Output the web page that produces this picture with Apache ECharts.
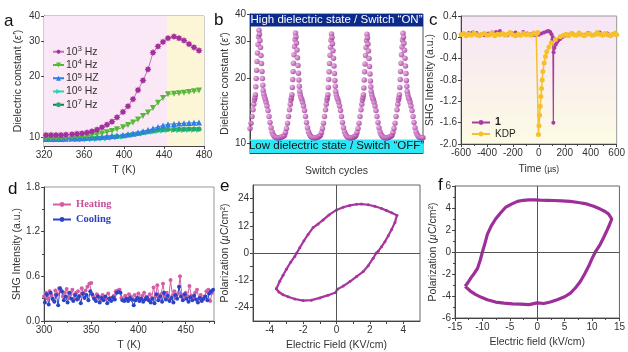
<!DOCTYPE html>
<html><head><meta charset="utf-8">
<script src="https://cdn.jsdelivr.net/npm/echarts@6/dist/echarts.min.js"></script>
<style>html,body{margin:0;padding:0;background:#fff}#c{width:628px;height:352px}</style>
</head><body><div id="c"></div><script>
// ---------- Panel a : dielectric constant vs T (heating) ----------
const aTemp = [322,327,332,337,342,348,353,358,363,368,373,378,383,388,393,399,404,409,414,419,424,429,434,439,444,450,455,460,465,470,475];
const aEps1e3 = [10.2,10.2,10.2,10.2,10.25,10.3,10.35,10.4,10.5,10.65,10.85,11.15,11.5,11.9,12.5,13.3,14.2,15.4,17.1,19.1,21.7,26.3,28.2,29.7,31.0,31.6,31.0,30.2,29.0,27.9,26.9];
const aEps1e4 = [9.85,9.85,9.85,9.9,9.9,9.95,10.0,10.05,10.1,10.2,10.3,10.4,10.55,10.7,10.9,11.15,11.45,11.8,12.2,12.7,13.2,13.9,14.8,15.6,16.3,16.4,16.5,16.6,16.7,16.85,17.0];
const aEps1e5 = [9.75,9.75,9.75,9.75,9.78,9.8,9.82,9.85,9.88,9.92,9.96,10.0,10.05,10.1,10.15,10.2,10.3,10.4,10.5,10.65,10.8,11.0,11.2,11.4,11.55,11.6,11.65,11.7,11.72,11.75,11.8];
const aEps1e6 = [9.7,9.7,9.7,9.7,9.7,9.72,9.72,9.73,9.74,9.75,9.76,9.8,9.85,9.9,9.95,10.0,10.1,10.2,10.3,10.4,10.5,10.6,10.7,10.75,10.8,10.8,10.82,10.82,10.84,10.84,10.85];
const aEps1e7 = [9.78,9.78,9.78,9.78,9.8,9.8,9.82,9.83,9.85,9.86,9.88,9.9,9.95,10.0,10.05,10.1,10.2,10.3,10.4,10.5,10.6,10.7,10.8,10.85,10.9,10.9,10.92,10.92,10.93,10.94,10.95];
const aXTicks = [320,360,400,440,480];
const aYTicks = [10,20,30,40];

// ---------- Panel b : switching cycles ----------
const bPhase = [-12,-11,-10,-9,-8,-7,-6,-5.2,-4.6,-4.1,-3.6,-3.2,-2.8,-2.4,-2.0,-1.5,-1.0,-0.5,0,0.5,1.0,1.5,2.0,2.5,3.0,3.4,3.8,4.2,4.8,5.5,6.3,7.1,8,9,10,11,12,13,14,15,16,17,18,19,20,21,22,23];
const bPeakTime = [9,45.5,81.5,117,153];
const bCycle1 = [10.78,10.9,11.2,11.7,12.4,13.3,14.3,15.2,15.9,16.3,16.8,18.3,20.0,21.9,24.0,26.3,28.8,31.3,33.6,32.2,30.1,27.9,25.6,23.5,21.6,20.0,18.6,17.6,16.9,16.4,16.0,15.5,14.9,14.2,13.3,12.5,11.8,11.3,11.0,10.8,10.7,10.62,10.6,10.6,10.6,10.62,10.66,10.72];
const bCycle2 = [10.76,10.88,11.2,11.7,12.4,13.3,14.3,15.2,15.9,16.3,16.8,18.2,19.8,21.6,23.6,25.8,28.2,30.4,32.6,31.3,29.3,27.2,25.0,23.0,21.2,19.7,18.4,17.4,16.8,16.3,16.0,15.5,14.9,14.2,13.3,12.5,11.8,11.3,11.0,10.8,10.7,10.62,10.6,10.6,10.6,10.62,10.66,10.72];
const bCycle3 = [10.76,10.9,11.2,11.7,12.4,13.3,14.3,15.2,15.9,16.3,16.8,18.2,19.8,21.5,23.5,25.7,28.0,30.2,32.3,31.1,29.1,27.0,24.9,22.9,21.1,19.6,18.4,17.4,16.8,16.3,16.0,15.5,14.9,14.2,13.3,12.5,11.8,11.3,11.0,10.8,10.7,10.62,10.6,10.6,10.6,10.62,10.66,10.72];
const bCycle4 = [10.76,10.9,11.2,11.7,12.4,13.3,14.3,15.2,15.9,16.3,16.8,18.1,19.7,21.5,23.4,25.6,27.9,30.1,32.2,31.0,29.0,26.9,24.8,22.8,21.0,19.5,18.3,17.4,16.8,16.3,16.0,15.5,14.9,14.2,13.3,12.5,11.8,11.3,11.0,10.8,10.7,10.62,10.6,10.6,10.6,10.62,10.66,10.72];
const bCycle5 = [10.76,10.9,11.2,11.7,12.4,13.3,14.3,15.2,15.9,16.3,16.8,18.2,19.8,21.6,23.6,25.8,28.1,30.3,32.5,31.2,29.2,27.1,24.9,22.9,21.1,19.6,18.4,17.4,16.8,16.3,16.0,15.5,14.9,14.2,13.3,12.5,11.8,11.3,11.0,10.8,10.7,10.62,10.6,10.6,10.6,10.62,10.66,10.72];
const bYTicks = [10,20,30,40];

// ---------- Panel c : SHG switching vs time ----------
const cTime1 = [-600,-570,-540,-510,-480,-450,-420,-390,-360,-330,-300,-270,-240,-210,-180,-150,-120,-90,-60,-30,0,20,40,60,75,88,98,104,108,112,114,120,130,140,150,165,180,200,230,260,290,320,350,380,410,440,470,500,530,560,590];
const cSHG1 = [0.05,0.06,0.08,0.09,0.08,0.05,0.04,0.07,0.09,0.10,0.12,0.06,0.04,0.08,0.09,0.05,0.10,0.07,0.06,0.04,0.05,0.07,0.09,0.11,0.12,0.10,0.06,-0.05,0.00,-1.60,-0.28,-0.20,-0.14,-0.09,-0.06,-0.03,0.00,0.03,0.05,0.07,0.04,0.06,0.05,0.08,0.04,0.06,0.09,0.05,0.07,0.04,0.06];
const cTimeKDP = [-600,-580,-560,-540,-520,-500,-480,-460,-440,-420,-400,-380,-360,-340,-320,-300,-280,-260,-240,-220,-200,-180,-160,-140,-120,-100,-80,-60,-40,-20,-8,-3,1,6,11,16,21,26,31,41,51,61,78,96,128,165,190,210,230,250,270,290,310,330,350,370,390,410,430,450,470,490,510,530,550,570,590,600];
const cSHGKDP = [0.05,0.07,0.03,0.06,0.04,0.08,0.05,0.03,0.06,0.07,0.04,0.05,0.08,0.03,0.06,0.05,0.07,0.04,0.06,0.09,0.05,0.03,0.06,0.04,0.07,0.05,0.06,0.04,0.08,0.06,0.09,-1.82,-1.66,-1.46,-1.29,-1.11,-0.96,-0.80,-0.64,-0.48,-0.36,-0.27,-0.18,-0.10,-0.04,0.01,0.04,0.06,0.03,0.07,0.05,0.04,0.08,0.05,0.03,0.06,0.07,0.04,0.05,0.09,0.06,0.04,0.07,0.05,0.03,0.06,0.08,0.05];

// ---------- Panel d : SHG vs T ----------
const dTempHeat = [300,302,304,306,308,310,312,314,316,318,320,322,324,326,328,330,332,334,336,338,340,342,344,346,348,350,352,354,356,358,360,362,364,366,368,370,372,374,376,378,380,382,384,386,388,390,392,394,396,398,400,402,404,406,408,410,412,414,416,418,420,422,424,426,428,430,432,434,436,438,440,442,444,446,448,450,452,454,456,458,460,462,464,466,468,470,472,474,476,478];
const dHeat = [0.33,0.38,0.30,0.40,0.35,0.28,0.41,0.36,0.44,0.40,0.33,0.38,0.43,0.31,0.36,0.42,0.30,0.38,0.40,0.34,0.44,0.37,0.41,0.46,0.50,0.51,0.33,0.30,0.36,0.33,0.29,0.35,0.32,0.30,0.37,0.31,0.28,0.34,0.40,0.41,0.42,0.31,0.29,0.34,0.30,0.36,0.33,0.28,0.35,0.31,0.37,0.30,0.34,0.38,0.32,0.29,0.36,0.31,0.45,0.33,0.48,0.30,0.36,0.50,0.32,0.38,0.29,0.55,0.34,0.40,0.31,0.37,0.60,0.35,0.30,0.38,0.33,0.47,0.34,0.31,0.38,0.42,0.30,0.35,0.29,0.33,0.40,0.42,0.27,0.38];
const dTempCool = [301,303,305,307,309,311,313,315,317,319,321,323,325,327,329,331,333,335,337,339,341,343,345,347,349,351,353,355,357,359,361,363,365,367,369,371,373,375,377,379,381,383,385,387,389,391,393,395,397,399,401,403,405,407,409,411,413,415,417,419,421,423,425,427,429,431,433,435,437,439,441,443,445,447,449,451,453,455,457,459,461,463,465,467,469,471,473,475,477,479];
const dCool = [0.25,0.36,0.22,0.38,0.30,0.26,0.35,0.21,0.44,0.40,0.28,0.33,0.25,0.38,0.30,0.27,0.35,0.29,0.33,0.24,0.37,0.31,0.35,0.28,0.40,0.36,0.30,0.27,0.33,0.25,0.31,0.28,0.33,0.24,0.30,0.27,0.32,0.29,0.38,0.39,0.38,0.28,0.27,0.30,0.27,0.31,0.29,0.21,0.28,0.31,0.27,0.30,0.26,0.29,0.32,0.28,0.25,0.30,0.24,0.36,0.28,0.33,0.26,0.38,0.29,0.34,0.27,0.31,0.25,0.35,0.30,0.46,0.33,0.28,0.36,0.30,0.26,0.32,0.28,0.34,0.29,0.25,0.31,0.27,0.30,0.33,0.28,0.37,0.40,0.42];

// ---------- Panel e : P-E loop ----------
const eField = [-3.6,-3.4,-3.2,-3.0,-2.75,-2.5,-2.38,-2.2,-1.95,-1.7,-1.4,-1.1,-0.8,-0.45,0,0.4,0.8,1.2,1.5,1.9,2.3,2.7,3.0,3.3,3.62,
  3.5,3.3,3.1,2.9,2.7,2.5,2.38,2.2,1.9,1.6,1.2,0.8,0.4,0.05,-0.05,-0.5,-1.0,-1.5,-2.0,-2.5,-2.9,-3.2,-3.45,-3.6];
const ePol = [-15.8,-12.5,-9.8,-7.2,-4.1,-1.5,0,2.3,5.4,8.2,11.2,12.8,14.6,16.8,19.0,20.2,21.0,21.5,21.6,21.3,20.6,19.6,18.7,17.8,16.6,
  13.5,10.4,7.6,5.0,2.8,0.8,0,-2.3,-5.6,-8.2,-10.4,-12.6,-14.6,-16.0,-17.4,-18.6,-19.8,-20.8,-21.0,-20.3,-19.3,-18.4,-17.2,-15.8];
const eXLabels = [-4,-2,0,2,4];
const eYLabels = [-24,-12,0,12,24];

// ---------- Panel f : P-E loop ----------
const fField = [-13.15,-12.6,-12.1,-11.5,-10.9,-10.4,-10.0,-9.5,-9.1,-8.4,-7.6,-6.7,-5.8,-4.7,-3.6,-2.5,-1.5,-0.5,0.5,2,3,4.5,6,7.5,9,10.3,11.5,12.3,13.0,13.6,
  13.2,12.7,12.1,11.5,11.0,10.6,10.0,9.4,8.7,7.9,7.0,6.06,5.0,3.64,2.4,1.2,0,-0.3,-1.5,-3.0,-4.5,-6.06,-7.6,-9.1,-10.2,-11.2,-12.2,-13.15];
const fPol = [-3.12,-2.75,-2.35,-1.95,-1.5,-0.75,0,0.85,1.6,2.35,3.0,3.55,4.05,4.35,4.6,4.7,4.74,4.74,4.72,4.7,4.68,4.64,4.6,4.5,4.37,4.15,3.9,3.7,3.46,3.0,
  2.5,1.93,1.3,0.7,0.3,0,-0.6,-1.28,-1.95,-2.66,-3.25,-3.73,-4.07,-4.34,-4.55,-4.68,-4.62,-4.8,-4.78,-4.74,-4.72,-4.65,-4.55,-4.34,-4.12,-3.88,-3.55,-3.12];

// =====================================================================
const chart = echarts.init(document.getElementById('c'), null, {renderer:'canvas'});
const FF = 'Liberation Sans, Arial, sans-serif';
const zip = (xs, ys) => xs.map((x, i) => [x, ys[i]]);
const lab = {color:'#333', fontSize:10, fontFamily:FF, margin:4};
const nameStyle = {color:'#333', fontSize:10.5, fontFamily:FF, rich:{i:{fontStyle:'italic', fontSize:10.5, fontFamily:FF, color:'#333'}, s:{fontSize:8.5, fontFamily:FF, color:'#333'}}};
const aLine = {show:true, onZero:false, lineStyle:{color:'#444', width:1}};
const aTick = {show:true, length:3, lineStyle:{color:'#444'}};
function ax(o){ return Object.assign({type:'value', axisLine:aLine, axisTick:aTick, axisLabel:lab, splitLine:{show:false}, nameTextStyle:nameStyle, nameLocation:'middle'}, o); }

const bData = [];
[bCycle1,bCycle2,bCycle3,bCycle4,bCycle5].forEach((cyc, k) => {
  cyc.forEach((v, i) => bData.push([bPeakTime[k] + bPhase[i], v]));
});

const supFmt = name => name.replace(/10\^(\d) (H[zZ])/, '{n|10}{s|$1}{n| $2}');

const option = {
  animation:false,
  backgroundColor:'#fff',
  grid:[
    {left:44, top:16, width:160, height:130, show:true, borderColor:'#999', borderWidth:1},
    {left:250, top:14, width:173, height:139, show:true, borderColor:'#555', borderWidth:1},
    {left:461, top:16, width:161, height:128, show:true, borderColor:'#999', borderWidth:1,
      backgroundColor:new echarts.graphic.LinearGradient(0,0,0,1,[{offset:0,color:'#f6e4f6'},{offset:1,color:'#fdfbe4'}])},
    {left:44, top:187, width:170, height:136, show:true, borderColor:'#999', borderWidth:1},
    {left:253, top:185, width:167, height:137, show:true, borderColor:'#666', borderWidth:1},
    {left:455, top:186, width:165, height:132, show:true, borderColor:'#666', borderWidth:1}
  ],
  xAxis:[
    ax({gridIndex:0, min:320, max:480, interval:40, name:'T (K)', nameGap:19, axisLabel:Object.assign({}, lab, {customValues:aXTicks}), axisTick:Object.assign({}, aTick, {customValues:aXTicks})}),
    ax({gridIndex:1, min:0, max:173, name:'Switch cycles', nameGap:13, axisLabel:{show:false}, axisTick:{show:false}}),
    ax({gridIndex:2, min:-600, max:600, interval:200, name:'Time {s|(µs)}', nameGap:20, minorTick:{show:true, splitNumber:2, length:2}}),
    ax({gridIndex:3, min:300, max:480, interval:50, name:'T (K)', nameGap:19, axisLabel:Object.assign({}, lab, {showMaxLabel:false}), minorTick:{show:true, splitNumber:2, length:2}}),
    ax({gridIndex:4, min:-5, max:5, name:'Electric Field (KV/cm)', nameGap:19,
        axisLabel:Object.assign({}, lab, {customValues:eXLabels}), axisTick:Object.assign({}, aTick, {customValues:[-4,-3,-2,-1,0,1,2,3,4]})}),
    ax({gridIndex:5, min:-15, max:15, interval:5, name:'Electric field (kV/cm)', nameGap:19, minorTick:{show:true, splitNumber:2, length:2}})
  ],
  yAxis:[
    ax({gridIndex:0, type:'log', logBase:10, min:9, max:40, name:"Dielectric constant ({i|ε'})", nameGap:20,
        axisLabel:Object.assign({}, lab, {customValues:aYTicks}), axisTick:Object.assign({}, aTick, {customValues:aYTicks})}),
    ax({gridIndex:1, type:'log', logBase:10, min:9, max:40, name:"Dielectric constant ({i|ε'})", nameGap:19,
        axisLabel:Object.assign({}, lab, {customValues:bYTicks}), axisTick:Object.assign({}, aTick, {customValues:bYTicks})}),
    ax({gridIndex:2, min:-2.0, max:0.4, interval:0.4, name:'SHG Intensity (a.u.)', nameGap:22,
        axisLabel:Object.assign({}, lab, {formatter:v => v.toFixed(1)})}),
    ax({gridIndex:3, min:0, max:1.8, interval:0.6, name:'SHG Intensity (a.u.)', nameGap:20,
        axisLabel:Object.assign({}, lab, {formatter:v => v.toFixed(1)}), minorTick:{show:true, splitNumber:2, length:2}}),
    ax({gridIndex:4, min:-30, max:30, name:'Polarization ({i|µ}C/cm²)', nameGap:21,
        axisLabel:Object.assign({}, lab, {customValues:eYLabels}), axisTick:Object.assign({}, aTick, {customValues:[-24,-18,-12,-6,0,6,12,18,24]})}),
    ax({gridIndex:5, min:-6, max:6, interval:2, name:'Polarization ({i|µ}C/cm²)', nameGap:16, minorTick:{show:true, splitNumber:2, length:2}})
  ],
  legend:[
    {left:47, top:40, orient:'vertical', itemWidth:11, itemHeight:6, itemGap:1,
     data:['10^3 Hz','10^4 Hz','10^5 HZ','10^6 Hz','10^7 Hz'], formatter:supFmt,
     textStyle:{color:'#333', fontFamily:FF, padding:[0,0,0,-3], rich:{n:{fontSize:10.5, fontFamily:FF, color:'#333', lineHeight:13.5}, s:{fontSize:7.5, fontFamily:FF, color:'#333', lineHeight:7, verticalAlign:'top'}}}},
    {left:466, top:112, orient:'vertical', itemWidth:18, itemHeight:6, itemGap:1, data:['1','KDP'],
     formatter: n => n === '1' ? '{b|1}' : n,
     textStyle:{color:'#222', fontSize:10, fontFamily:FF, rich:{b:{fontWeight:'bold', fontSize:10.5, fontFamily:FF, color:'#222'}}}},
    {left:47, top:194, orient:'vertical', itemWidth:18, itemHeight:6, itemGap:4,
     data:[{name:'Heating', textStyle:{color:'#c8509c'}}, {name:'Cooling', textStyle:{color:'#2a3fbf'}}],
     textStyle:{fontFamily:'Liberation Serif, Times New Roman, serif', fontWeight:'bold', fontSize:10.5}}
  ],
  graphic:[
    {type:'text', x:4, y:21, style:{text:'a', font:'17px '+FF, fill:'#111', verticalAlign:'middle'}},
    {type:'text', x:214, y:20, style:{text:'b', font:'17px '+FF, fill:'#111', verticalAlign:'middle'}},
    {type:'text', x:429, y:20, style:{text:'c', font:'17px '+FF, fill:'#111', verticalAlign:'middle'}},
    {type:'text', x:8, y:189, style:{text:'d', font:'17px '+FF, fill:'#111', verticalAlign:'middle'}},
    {type:'text', x:220, y:186, style:{text:'e', font:'17px '+FF, fill:'#111', verticalAlign:'middle'}},
    {type:'text', x:438, y:185, style:{text:'f', font:'17px '+FF, fill:'#111', verticalAlign:'middle'}},
    {type:'text', x:49, y:26, style:{text:'Heating', font:'10px '+FF, fill:'#e8303c', verticalAlign:'middle'}}
  ],
  series:[
    {name:'10^3 Hz', type:'line', xAxisIndex:0, yAxisIndex:0, data:zip(aTemp, aEps1e3), color:'#a3309b',
     symbol:'path://M10,0 L6,2.5 L7.07,7.07 L2.5,6 L0,10 L-2.5,6 L-7.07,7.07 L-6,2.5 L-10,0 L-6,-2.5 L-7.07,-7.07 L-2.5,-6 L0,-10 L2.5,-6 L7.07,-7.07 L6,-2.5 Z',
     symbolSize:7, lineStyle:{width:1, color:'#c070b8'}, z:6,
     markArea:{silent:true, data:[[{xAxis:320, itemStyle:{color:'#fbe8f6'}},{xAxis:443}],[{xAxis:443, itemStyle:{color:'#fcf5d6'}},{xAxis:480}]]}},
    {name:'10^4 Hz', type:'line', xAxisIndex:0, yAxisIndex:0, data:zip(aTemp, aEps1e4), color:'#58b83a', symbol:'triangle', symbolRotate:180, symbolSize:6, lineStyle:{width:1}, z:5},
    {name:'10^5 HZ', type:'line', xAxisIndex:0, yAxisIndex:0, data:zip(aTemp, aEps1e5), color:'#2f7ee6', symbol:'triangle', symbolSize:6, lineStyle:{width:1}, z:4},
    {name:'10^6 Hz', type:'line', xAxisIndex:0, yAxisIndex:0, data:zip(aTemp, aEps1e6), color:'#27d4b0', symbol:'triangle', symbolRotate:-90, symbolSize:6, lineStyle:{width:1}, z:3},
    {name:'10^7 Hz', type:'line', xAxisIndex:0, yAxisIndex:0, data:zip(aTemp, aEps1e7), color:'#2aa86a', symbol:'circle', symbolSize:5, lineStyle:{width:1, color:'#17785c'}, z:3},

    {name:'switch', type:'scatter', xAxisIndex:1, yAxisIndex:1, data:bData, symbolSize:5.5, clip:true,
     itemStyle:{color:{type:'radial', x:0.35, y:0.35, r:0.7, colorStops:[{offset:0, color:'#e8a8e2'},{offset:1, color:'#98288f'}]}},
     markArea:{silent:true, data:[
       [{yAxis:35, itemStyle:{color:'#0b2a8a'}, label:{show:true, position:'inside', formatter:'High dielectric state / Switch “ON”', color:'#fff', fontSize:11.5, fontFamily:FF}}, {yAxis:40}],
       [{yAxis:9, itemStyle:{color:'#2ee7f6'}, label:{show:true, position:'inside', formatter:'Low dielectric state / Switch “OFF”', color:'#111', fontSize:11.5, fontFamily:FF}}, {yAxis:10.4}]
     ]}},

    {name:'1', type:'line', xAxisIndex:2, yAxisIndex:2, data:zip(cTime1, cSHG1), color:'#a83ca2', symbol:'circle', symbolSize:4, lineStyle:{width:1.2}},
    {name:'KDP', type:'line', xAxisIndex:2, yAxisIndex:2, data:zip(cTimeKDP, cSHGKDP), color:'#f6c02c', symbol:'circle', symbolSize:5, lineStyle:{width:1.5}},

    {name:'Heating', type:'line', xAxisIndex:3, yAxisIndex:3, data:zip(dTempHeat, dHeat), color:'#d45ea6', symbol:'circle', symbolSize:4, lineStyle:{width:1}},
    {name:'Cooling', type:'line', xAxisIndex:3, yAxisIndex:3, data:zip(dTempCool, dCool), color:'#2a44c8', symbol:'circle', symbolSize:4, lineStyle:{width:1}},

    {name:'PE-e', type:'line', xAxisIndex:4, yAxisIndex:4, data:zip(eField, ePol), color:'#a8359f', symbol:'circle', symbolSize:3, showSymbol:true, lineStyle:{width:2.2},
     markLine:{silent:true, symbol:'none', label:{show:false}, lineStyle:{color:'#555', type:'solid', width:1}, data:[{xAxis:0},{yAxis:0}]}},
    {name:'PE-f', type:'line', xAxisIndex:5, yAxisIndex:5, data:zip(fField, fPol), color:'#9e2e98', symbol:'none', lineStyle:{width:3.2},
     markLine:{silent:true, symbol:'none', label:{show:false}, lineStyle:{color:'#555', type:'solid', width:1}, data:[{xAxis:0},{yAxis:0}]}}
  ]
};
chart.setOption(option);
</script></body></html>
